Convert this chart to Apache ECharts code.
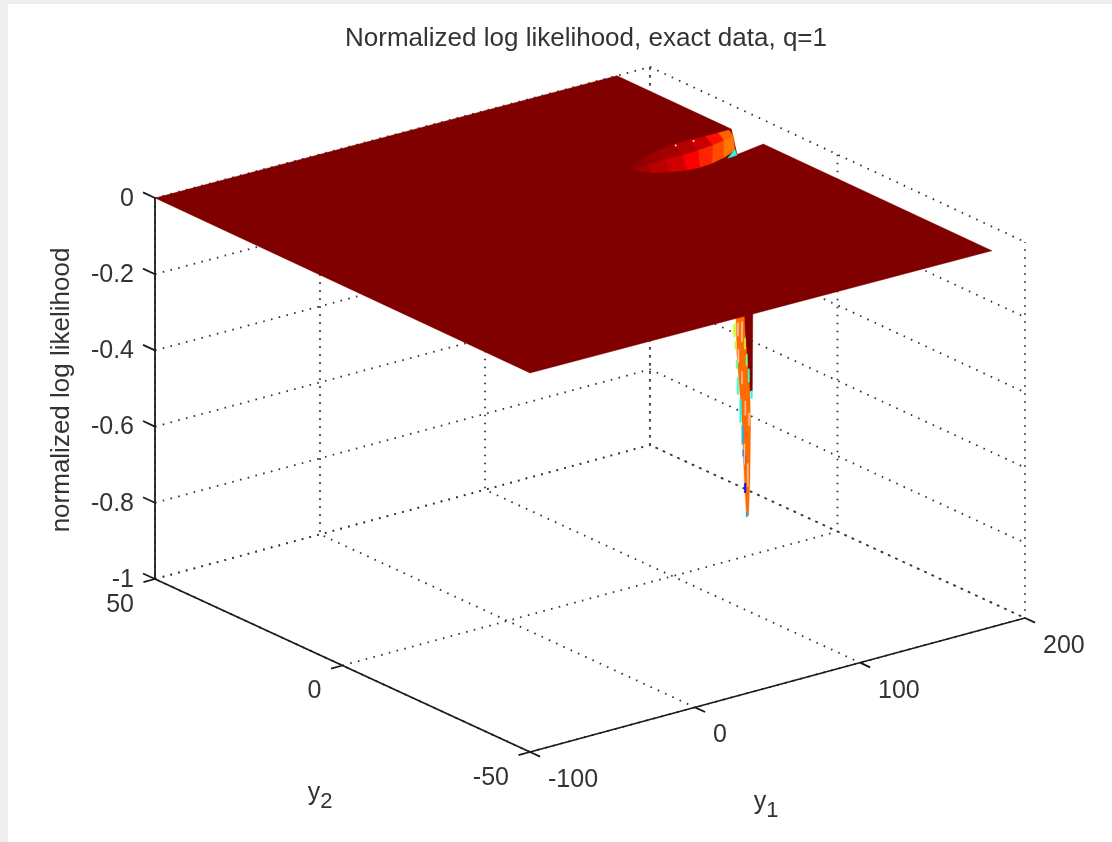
<!DOCTYPE html>
<html><head><meta charset="utf-8">
<style>html,body{margin:0;padding:0;background:#efefef}#c{width:1112px;height:842px}</style>
<script src="https://cdn.jsdelivr.net/npm/echarts@6/dist/echarts.min.js"></script>
</head><body><div id="c"></div>
<script>
// ---- axis ticks ----
const titleText = 'Normalized log likelihood, exact data, q=1';
const zLabelText = 'normalized log likelihood';
const y1Ticks = [-100, 0, 100, 200];
const y2Ticks = [50, 0, -50];
const zTicks = [0, -0.2, -0.4, -0.6, -0.8, -1];

// ---- flat part of the surface (outline, z = 0) ----
const surfaceY1 = [-100, 180, 180, 161.2, 180, 180, -100];
const surfaceY2 = [50, 50, 19.5, 9.7, 11, -50, -50];

// ---- rim of the bowl seen through the slit: three arcs, same columns ----
const bowlOuterY1 = [111.5, 121.9, 132.6, 144.9, 154.3, 164.1, 172.0, 178.3];
const bowlOuterY2 = [16.0, 17.6, 18.6, 19.6, 19.6, 19.4, 19.4, 19.4];
const bowlMiddleY1 = [109.8, 118.1, 129.6, 139.7, 149.6, 159.5, 167.8, 175.4];
const bowlMiddleY2 = [14.3, 14.5, 15.0, 14.7, 15.0, 15.4, 16.1, 17.0];
const bowlInnerY1 = [108.9, 113.0, 120.7, 128.9, 136.3, 144.2, 153.7, 163.7];
const bowlInnerY2 = [13.4, 11.2, 9.8, 8.8, 8.6, 8.9, 9.9, 11.4];
const bowlUpperLevel = [0.98, 0.975, 0.965, 0.95, 0.93, 0.86, 0.78];
const bowlLowerLevel = [0.965, 0.945, 0.92, 0.88, 0.84, 0.80, 0.76];
const bowlCyanY1 = [164.6, 160.4, 154.4];
const bowlCyanY2 = [11.75, 9.4, 9.2];
const bowlCyanLevel = 0.40;
const bowlSpeckY1 = [144.9, 155.5];
const bowlSpeckY2 = [18.9, 18.8];

// ---- the spike below the surface (at y2 about -7.7) ----
const spikeY2 = -7.7;
const spikeDarkY1 = [125.2, 131.2, 130.9, 128.8, 126.4];
const spikeDarkZ = [-0.28, -0.28, -0.51, -0.51, -0.38];
const spikeMainY1 = [120.9, 121.5, 124.6, 125.2, 126.4, 127.4, 128.6, 129.4, 129.8, 129.4, 126.4, 125.8];
const spikeMainZ = [-0.28, -0.40, -0.58, -0.65, -0.77, -0.838, -0.838, -0.745, -0.60, -0.51, -0.35, -0.28];
const spikeMainLevel = 0.77;
const stripLeft  = [119.4, 120.2, 121.0, 121.6, 123.2, 124.5, 125.0, 125.9, 126.0, 126.0, 127.0, 128.3, 130.0, 127.2];
const stripRight = [120.9, 121.2, 122.0, 122.6, 124.2, 125.4, 125.9, 126.6, 127.0, 126.8, 127.9, 129.2, 130.9, 127.9];
const stripTop   = [-0.32, -0.368, -0.418, -0.465, -0.524, -0.595, -0.66, -0.677, -0.75, -0.366, -0.41, -0.45, -0.51, -0.826];
const stripBot   = [-0.355, -0.387, -0.44, -0.51, -0.585, -0.645, -0.677, -0.70, -0.775, -0.395, -0.44, -0.485, -0.53, -0.84];
const stripLevel = [0.58, 0.56, 0.47, 0.43, 0.38, 0.31, 0.25, 0.20, 0.14, 0.57, 0.48, 0.44, 0.39, 0.29];
const edgeLeft  = [121.8, 124.2, 122.1, 124.3, 126.3, 128.5, 125.8, 127.8];
const edgeRight = [122.6, 125.0, 122.8, 125.0, 127.0, 129.2, 126.4, 128.5];
const edgeTop   = [-0.32, -0.32, -0.39, -0.452, -0.532, -0.566, -0.645, -0.70];
const edgeBot   = [-0.355, -0.373, -0.426, -0.485, -0.57, -0.60, -0.70, -0.76];

// ---- view of the 3-D box onto the plane of the hidden 2-D axes ----
function project(y1, y2, z) {
  const t = (y1 + 100) / 300, s = (50 - y2) / 100;
  return [155 + 495 * t + 375 * s,
          579 - 134 * t + 173 * s - (z + 1) * (381 - 2 * s - 3 * t)];
}
function jet(v) {
  const c = d => Math.round(255 * Math.max(0, Math.min(1, 1.5 - Math.abs(4 * v - d))));
  return 'rgb(' + c(3) + ',' + c(2) + ',' + c(1) + ')';
}

// ---- polygons and lines built from the arrays above ----
const surfaceColor = jet(1);
const outline = surfaceY1.map((v, i) => [v, surfaceY2[i], 0]);
const spikePolys = [
  { pts: spikeDarkY1.map((v, i) => [v, spikeY2, spikeDarkZ[i]]), color: surfaceColor },
  { pts: spikeMainY1.map((v, i) => [v, spikeY2, spikeMainZ[i]]), color: jet(spikeMainLevel) }
];
stripLeft.forEach((l, i) => spikePolys.push({
  pts: [[l, spikeY2, stripTop[i]], [stripRight[i], spikeY2, stripTop[i]], [stripRight[i], spikeY2, stripBot[i]], [l, spikeY2, stripBot[i]]],
  color: jet(stripLevel[i]) }));
edgeLeft.forEach((l, i) => spikePolys.push({
  pts: [[l, spikeY2, edgeTop[i]], [edgeRight[i], spikeY2, edgeTop[i]], [edgeRight[i], spikeY2, edgeBot[i]], [l, spikeY2, edgeBot[i]]],
  color: '#ffc4a4' }));
const bowlPolys = [];
bowlUpperLevel.forEach((lv, i) => {
  bowlPolys.push({ pts: [[bowlOuterY1[i], bowlOuterY2[i], 0], [bowlOuterY1[i + 1], bowlOuterY2[i + 1], 0], [bowlMiddleY1[i + 1], bowlMiddleY2[i + 1], 0], [bowlMiddleY1[i], bowlMiddleY2[i], 0]], color: jet(lv) });
  bowlPolys.push({ pts: [[bowlMiddleY1[i], bowlMiddleY2[i], 0], [bowlMiddleY1[i + 1], bowlMiddleY2[i + 1], 0], [bowlInnerY1[i + 1], bowlInnerY2[i + 1], 0], [bowlInnerY1[i], bowlInnerY2[i], 0]], color: jet(bowlLowerLevel[i]) });
});
bowlPolys.push({ pts: bowlCyanY1.map((v, i) => [v, bowlCyanY2[i], 0]), color: jet(bowlCyanLevel) });

const polys = spikePolys.concat([{ pts: outline, color: surfaceColor }], bowlPolys);

const [y1a, y1b] = [y1Ticks[0], y1Ticks[y1Ticks.length - 1]];
const [y2a, y2b] = [y2Ticks[0], y2Ticks[y2Ticks.length - 1]];
const [z0, z1] = [zTicks[0], zTicks[zTicks.length - 1]];
const dotted = [];
zTicks.forEach(z => dotted.push([[y1a, y2a, z], [y1b, y2a, z], [y1b, y2b, z]]));
y1Ticks.forEach(v => { dotted.push([[v, y2a, z0], [v, y2a, z1], [v, y2b, z1]]); });
y2Ticks.forEach(v => { dotted.push([[y1a, v, z1], [y1b, v, z1], [y1b, v, z0]]); });

const solid = [
  [[y1a, y2a, z0], [y1a, y2a, z1]],
  [[y1a, y2a, z1], [y1a, y2b, z1]],
  [[y1a, y2b, z1], [y1b, y2b, z1]]
];
y1Ticks.forEach(v => solid.push([[v, y2b, z1], [v, y2b - 2.7, z1]]));
y2Ticks.forEach(v => solid.push([[y1a, v, z1], [y1a - 7, v, z1]]));
zTicks.forEach(z => solid.push([[y1a, y2a, z], [y1a, y2a + 3.2, z]]));

function polyRender(list) {
  return function (params, api) {
    const p = list[api.value(0)];
    return { type: 'polygon', silent: true,
      shape: { points: p.pts.map(q => api.coord(project(q[0], q[1], q[2]))) },
      style: { fill: p.color, stroke: p.color, lineWidth: 0.4 } };
  };
}
function lineRender(list, style) {
  return function (params, api) {
    return { type: 'polyline', silent: true,
      shape: { points: list[api.value(0)].map(q => api.coord(project(q[0], q[1], q[2]))) },
      style: Object.assign({ fill: null }, style) };
  };
}
const idx = l => l.map((_, i) => [i]);
const labelFont = 'Liberation Sans, Arial, sans-serif';
const texts = [];
const fmt = v => String(v);
y1Ticks.forEach(v => { const q = project(v, y2b, z1); texts.push({ x: q[0] + 18, y: q[1] + 28, t: fmt(v), align: 'left' }); });
y2Ticks.forEach(v => { const q = project(y1a, v, z1); texts.push({ x: q[0] - 21, y: q[1] + 26, t: fmt(v), align: 'right' }); });
zTicks.forEach(z => { const q = project(y1a, y2a, z); texts.push({ x: q[0] - 21, y: q[1] + 1, t: fmt(z), align: 'right' }); });
const subRich = { s: { fontSize: 22, fontFamily: labelFont, color: '#333', padding: [18, 0, 0, 0] } };
texts.push({ x: 320, y: 793, t: 'y{s|2}', align: 'center', rich: subRich });
texts.push({ x: 766, y: 802, t: 'y{s|1}', align: 'center', rich: subRich });

const chart = echarts.init(document.getElementById('c'), null, { renderer: 'canvas' });
chart.setOption({
  animation: false,
  backgroundColor: '#efefef',
  title: { text: titleText, left: 345, top: 26, padding: 0,
    textStyle: { fontFamily: labelFont, fontSize: 26, fontWeight: 'normal', color: '#333' } },
  grid: { left: 8, top: 4, right: 0, bottom: 0, show: true, backgroundColor: '#fff', borderWidth: 0 },
  xAxis: { type: 'value', min: 8, max: 1112, show: false },
  yAxis: { type: 'value', min: 4, max: 842, inverse: true, show: false },
  series: [
    { type: 'custom', data: idx(dotted), clip: false, silent: true, z: 1, encode: { x: -1, y: -1 },
      renderItem: lineRender(dotted, { stroke: '#333', lineWidth: 1.8, lineDash: [1.6, 6.4] }) },
    { type: 'custom', data: idx(solid), clip: false, silent: true, z: 2, encode: { x: -1, y: -1 },
      renderItem: lineRender(solid, { stroke: '#1a1a1a', lineWidth: 1.8 }) },
    { type: 'custom', data: idx(polys), clip: false, silent: true, z: 3, encode: { x: -1, y: -1 },
      renderItem: polyRender(polys) },
    { type: 'custom', data: idx(bowlSpeckY1), clip: false, silent: true, z: 4, encode: { x: -1, y: -1 },
      renderItem: function (params, api) {
        const i = api.value(0), c = api.coord(project(bowlSpeckY1[i], bowlSpeckY2[i], 0));
        return { type: 'circle', shape: { cx: c[0], cy: c[1], r: 1 }, style: { fill: '#ffd8c8' } };
      } },
    { type: 'custom', data: idx(texts), clip: false, silent: true, z: 5, encode: { x: -1, y: -1 },
      renderItem: function (params, api) {
        const d = texts[api.value(0)], c = api.coord([d.x, d.y]);
        return { type: 'text', x: c[0], y: c[1],
          style: { text: d.t, fontSize: 25, fontFamily: labelFont, fill: '#333', align: d.align, verticalAlign: 'middle', rich: d.rich } };
      } },
    { type: 'custom', data: [[0]], clip: false, silent: true, z: 5, encode: { x: -1, y: -1 },
      renderItem: function (params, api) {
        const c = api.coord([62, 390]);
        return { type: 'text', x: c[0], y: c[1], rotation: Math.PI / 2,
          style: { text: zLabelText, fontSize: 26, fontFamily: labelFont, fill: '#333', align: 'center', verticalAlign: 'middle' } };
      } }
  ]
});
</script></body></html>
